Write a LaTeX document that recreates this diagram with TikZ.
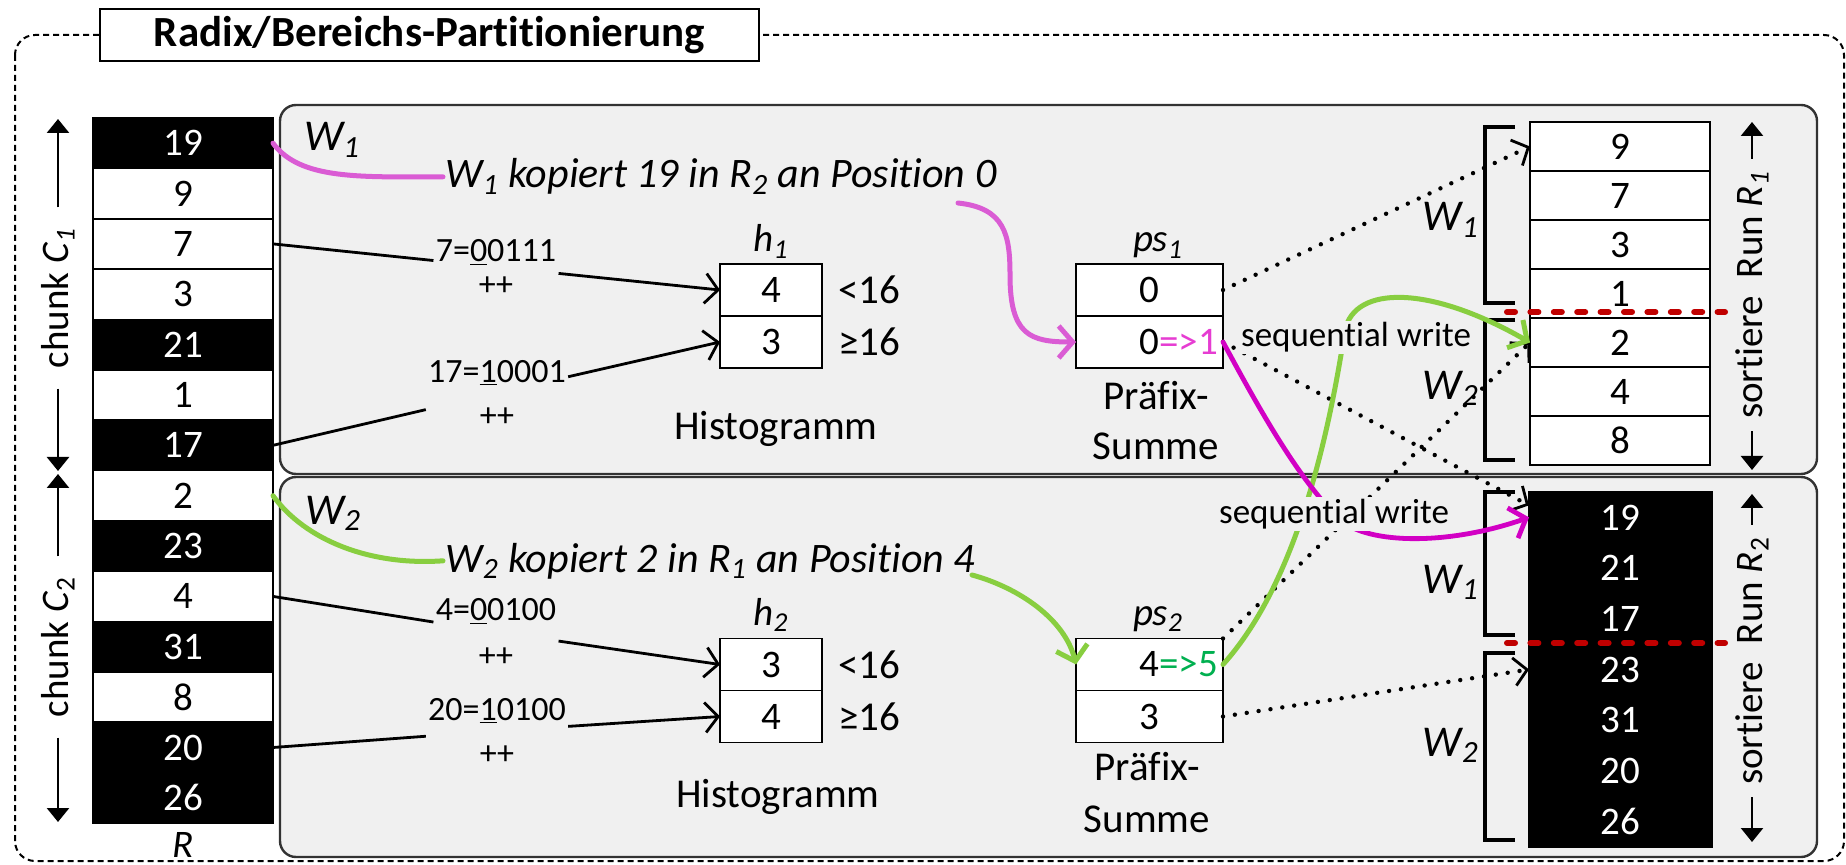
\documentclass[tikz,border=0pt]{standalone}
\usepackage{fontspec}
\setmainfont{Carlito}[Ligatures=NoCommon]
\usetikzlibrary{arrows.meta}
\definecolor{panelgray}{RGB}{240,240,240}
\definecolor{panelline}{RGB}{50,50,50}
\definecolor{orch}{RGB}{218,92,212}
\definecolor{magd}{RGB}{210,0,196}
\definecolor{magt}{RGB}{230,60,210}
\definecolor{lgreen}{RGB}{136,206,64}
\definecolor{dgreen}{RGB}{0,176,80}
\definecolor{dred}{RGB}{192,0,0}
\begin{document}
\begin{tikzpicture}[x=0.5pt,y=-0.5pt,
  num/.style={font=\fontsize{19.5}{23}\selectfont},
  cellbase/.style={draw=black, line width=0.9pt, inner sep=0pt, outer sep=0pt, num},
  rcell/.style={cellbase, minimum width=90pt, minimum height=25.18pt},
  hcell/.style={cellbase, fill=white, minimum width=51pt, minimum height=26pt},
  pcell/.style={cellbase, fill=white, minimum width=73.5pt, minimum height=26pt},
  racell/.style={cellbase, fill=white, minimum width=90pt, minimum height=24.5pt},
  rbcell/.style={cellbase, fill=black, text=white, minimum width=91.5pt, minimum height=25.36pt},
  ital/.style={font=\itshape\fontsize{21}{25}\selectfont, inner sep=1pt},
  wlab/.style={font=\itshape\fontsize{22}{26}\selectfont, inner sep=1pt},
  bin/.style={font=\fontsize{17}{22}\selectfont, align=center, inner sep=1pt},
  lbl/.style={font=\fontsize{20.5}{24}\selectfont, inner sep=0pt},
  seq/.style={font=\fontsize{17.5}{21}\selectfont, fill=panelgray, inner sep=1pt},
  vlab/.style={rotate=90, num},
  tri/.style={-{Triangle[length=7pt,width=11pt]}, line width=1.3pt},
  blk/.style={line width=1.4pt},
  chevs/.style={-{Straight Barb[length=6.5pt,width=15pt]}},
  chevb/.style={-{Straight Barb[length=7pt,width=16pt]}},
  dots/.style={line width=2.2pt, line cap=round, dash pattern=on 0pt off 6pt, -{Straight Barb[length=6.5pt,width=14pt,line width=1.4pt]}},
  orchline/.style={draw=orch, line width=2.5pt, line cap=round},
  magline/.style={draw=magd, line width=2.4pt, line cap=round},
  grline/.style={draw=lgreen, line width=2.5pt, line cap=round},
  brk/.style={line width=1.6pt},
  reddash/.style={draw=dred, line width=3pt, line cap=round, dash pattern=on 4pt off 7.7pt},
  panel/.style={draw=panelline, line width=1.2pt, fill=panelgray, rounded corners=8pt},
  framestyle/.style={draw=black, line width=1pt, dash pattern=on 3pt off 2pt, rounded corners=10pt},
  titlebox/.style={draw=black, line width=1.4pt, fill=white, minimum width=329.5pt, minimum height=26pt, inner sep=0pt, font=\bfseries\fontsize{21.5}{24}\selectfont}
]
\fill[white] (0,0) rectangle (1846,865);
\useasboundingbox (0,0) rectangle (1846,865);

% outer frame and title
\draw[framestyle] (15,35) rectangle (1844,861);
\node[titlebox] (title) at (429.5,35) {Radix/Bereichs-Partitionierung};

% panels
\draw[panel] (280,105) rectangle (1817,474);
\draw[panel] (280,477) rectangle (1817,857);

% input column R
\foreach \v/\fc/\tc [count=\i] in {19/black/white,9/white/black,7/white/black,3/white/black,21/black/white,1/white/black,17/black/white,2/white/black,23/black/white,4/white/black,31/black/white,8/white/black,20/black/white,26/black/white}
  \node[rcell, fill=\fc, text=\tc] (r\i) at (183,{118+50.36*\i-25.18}) {\v};
\node[num, font=\itshape\fontsize{19.5}{23}\selectfont] (rlab) at (183,845) {R};

% chunk labels
\node[vlab, inner sep=10pt] (c1) at (58,298) {chunk \textit{C}\textsubscript{\textit{1}}};
\coordinate (c1t) at (58,119);
\coordinate (c1b) at (58,471);
\draw[tri] (c1.east) -- (c1t);
\draw[tri] (c1.west) -- (c1b);
\node[vlab, inner sep=10pt] (c2) at (58,647) {chunk \textit{C}\textsubscript{2}};
\coordinate (c2t) at (58,474);
\coordinate (c2b) at (58,822);
\draw[tri] (c2.east) -- (c2t);
\draw[tri] (c2.west) -- (c2b);

% worker labels
\node[wlab] (w1) at (332,140) {W\textsubscript{1}};
\node[wlab] (w2) at (333,513) {W\textsubscript{2}};
\node[ital, anchor=base west] (k1) at (443,188) {W\textsubscript{1} kopiert 19 in R\textsubscript{2} an Position 0};
\node[ital, anchor=base west] (k2) at (443,572) {W\textsubscript{2} kopiert 2 in R\textsubscript{1} an Position 4};

% histograms
\node[hcell] (h1a) at (771,290) {4};
\node[hcell] (h1b) at (771,342) {3};
\node[hcell] (h2a) at (771,664.5) {3};
\node[hcell] (h2b) at (771,716.5) {4};
\node[lbl, anchor=base, font=\itshape\fontsize{19.5}{23}\selectfont] (h1l) at (771,252) {h\textsubscript{1}};
\node[lbl, anchor=base, font=\itshape\fontsize{19.5}{23}\selectfont] (h2l) at (771,625) {h\textsubscript{2}};
\node[lbl, anchor=west] (lt1) at (838,290) {<16};
\node[lbl, anchor=west] (ge1) at (838,342) {≥16};
\node[lbl, anchor=west] (lt2) at (838,665) {<16};
\node[lbl, anchor=west] (ge2) at (838,717) {≥16};
\node[lbl, anchor=base] (hist1) at (776,440) {Histogramm};
\node[lbl, anchor=base] (hist2) at (778,807) {Histogramm};

% prefix sums
\node[pcell] (ps1a) at (1149.5,290) {0};
\node[pcell] (ps1b) at (1149.5,342) {0\rlap{\textcolor{magt}{=>1}}};
\node[pcell] (ps2a) at (1149.5,664.5) {4\rlap{\textcolor{dgreen}{=>5}}};
\node[pcell] (ps2b) at (1149.5,716.5) {3};
\node[lbl, anchor=base, font=\itshape\fontsize{19.5}{23}\selectfont] (ps1l) at (1158,252) {ps\textsubscript{1}};
\node[lbl, anchor=base, font=\itshape\fontsize{19.5}{23}\selectfont] (ps2l) at (1158,625) {ps\textsubscript{2}};
\node[lbl, anchor=base] (pf1) at (1156,410) {Präfix-};
\node[lbl, anchor=base] (su1) at (1156,460) {Summe};
\node[lbl, anchor=base] (pf2) at (1147,780) {Präfix-};
\node[lbl, anchor=base] (su2) at (1147,832) {Summe};

% binary keys
\node[bin] (t7) at (496,267) {7=\underline{0}0111\\[-5pt]++};
\node[bin] (t17) at (497,393) {17=\underline{1}0001\\++};
\node[bin] (t4) at (496,632) {4=\underline{0}0100\\[1pt]++};
\node[bin] (t20) at (497,731) {20=\underline{1}0100\\++};
\draw[blk] (r3.east) -- (t7);
\draw[blk, chevs] (t7) -- (h1a.west);
\draw[blk] (r7.east) -- (t17);
\draw[blk, chevs] (t17) -- (h1b.west);
\draw[blk] (r10.east) -- (t4);
\draw[blk, chevs] (t4) -- (h2a.west);
\draw[blk] (r13.east) -- (t20);
\draw[blk, chevs] (t20) -- (h2b.west);

% output runs
\foreach \v [count=\i] in {9,7,3,1,2,4,8}
  \node[racell] (ra\i) at (1620,{122+49*\i-24.5}) {\v};
\foreach \v [count=\i] in {19,21,17,23,31,20,26}
  \node[rbcell] (rb\i) at (1620.5,{492+50.71*\i-25.355}) {\v};
\draw[reddash] (1507,312) -- (1725,312);
\draw[reddash] (1507,643) -- (1725,643);

% brackets
\draw[brk] (1515,127) -- (1485,127) -- (1485,303) -- (1515,303);
\draw[brk] (1515,320) -- (1485,320) -- (1485,460) -- (1515,460);
\draw[brk] (1515,492) -- (1485,492) -- (1485,635) -- (1515,635);
\draw[brk] (1515,653) -- (1485,653) -- (1485,840) -- (1515,840);
\node[wlab, anchor=east] (bw1a) at (1481,220) {W\textsubscript{1}};
\node[wlab, anchor=east] (bw2a) at (1481,388) {W\textsubscript{2}};
\node[wlab, anchor=east] (bw1b) at (1481,582) {W\textsubscript{1}};
\node[wlab, anchor=east] (bw2b) at (1481,745) {W\textsubscript{2}};

% run labels
\node[vlab, inner sep=6pt] (s1) at (1752,295) {sortiere\ \ Run \textit{R}\textsubscript{\textit{1}}};
\coordinate (s1t) at (1752,122);
\coordinate (s1b) at (1752,470);
\draw[tri] (s1.east) -- (s1t);
\draw[tri] (s1.west) -- (s1b);
\node[vlab, inner sep=6pt] (s2) at (1752,661) {sortiere\ \ Run \textit{R}\textsubscript{2}};
\coordinate (s2t) at (1752,494);
\coordinate (s2b) at (1752,842);
\draw[tri] (s2.east) -- (s2t);
\draw[tri] (s2.west) -- (s2b);

% dotted mappings
\draw[dots] (ps1a.east) -- (ra1.west);
\draw[dots] (ps1b.east) -- ([yshift=6pt]rb1.west);
\draw[dots] (ps2a.north east) -- (ra5.west);
\draw[dots] (ps2b.east) -- (rb4.west);

% coloured flows
\coordinate (m2s) at (958,203);
\coordinate (g2s) at (972,575);
\draw[orchline] (r1.east) .. controls (300,180) and (360,177) .. (k1.west);
\draw[orchline, chevb] (m2s) .. controls (1005,208) and (1010,235) .. (1010,275) .. controls (1010,335) and (1030,342) .. (ps1b.west);
\draw[grline] (r8.east) .. controls (305,540) and (370,566) .. (k2.west);
\draw[grline, chevb] (g2s) .. controls (1020,588) and (1065,620) .. (ps2a.west);
\draw[grline, chevb] (ps2a.east) .. controls (1290,590) and (1325,460) .. (1345,330) .. controls (1355,285) and (1430,285) .. (ra5.west);
\draw[magline, chevb] (ps1b.east) .. controls (1265,420) and (1300,480) .. (1340,520) .. controls (1370,545) and (1450,545) .. (rb1.west);

\node[seq] (sw1) at (1356,337.5) {sequential write};
\node[seq] (sw2) at (1334,514) {sequential write};
\end{tikzpicture}
\end{document}
